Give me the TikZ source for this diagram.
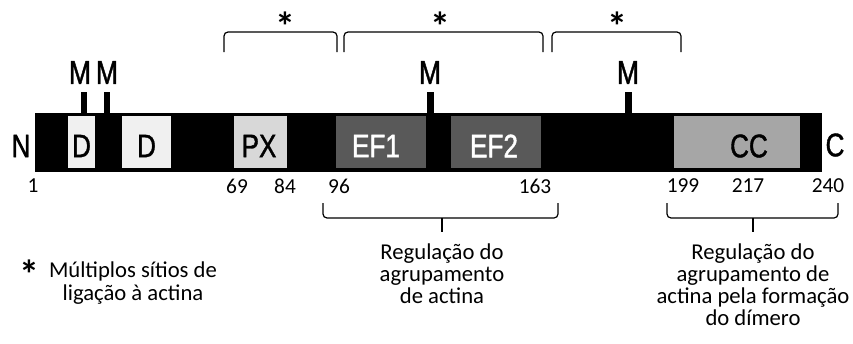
\documentclass[tikz,border=0pt]{standalone}
\usepackage{fontspec}
\setmainfont{Carlito}
\newfontfamily\arl[FakeStretch=0.8,FakeBold=1.2]{Liberation Sans}
\usetikzlibrary{positioning}
\definecolor{dcol}{HTML}{F0F0F0}
\definecolor{pxcol}{HTML}{D8D8D8}
\definecolor{efcol}{HTML}{595959}
\definecolor{cccol}{HTML}{A6A6A6}
\begin{document}
\begin{tikzpicture}[x=0.75pt,y=-0.75pt,
  lbl/.style={font=\arl\fontsize{24.5}{24.5}\selectfont, inner sep=0},
  mlbl/.style={font=\arl\fontsize{25}{25}\selectfont, inner sep=0},
  num/.style={font=\fontsize{16}{16}\selectfont, inner sep=0},
  txt/.style={font=\fontsize{17}{16.4}\selectfont, align=center, inner sep=0},
  ast/.style={font=\bfseries\fontsize{30}{30}\selectfont, inner sep=0},
  brk/.style={line width=0.9pt, rounded corners=3pt},
  tick/.style={fill=black},
]
\useasboundingbox (0,0) rectangle (853,343);
% main bar
\fill[black] (35,113) rectangle (822,172);
% domains
\fill[dcol] (68,116) rectangle (95,168);
\fill[dcol] (122,116) rectangle (171,168);
\fill[pxcol] (234,116) rectangle (287,168);
\fill[efcol] (336,116) rectangle (426,168);
\fill[efcol] (451,116) rectangle (541,168);
\fill[cccol] (674,116) rectangle (800,168);
\node[lbl] (d1) at (81.5,146) {D};
\node[lbl] (d2) at (146.5,146) {D};
\node[lbl] (px) at (259,146) {PX};
\node[lbl,text=white] (ef1) at (376,146) {EF1};
\node[lbl,text=white] (ef2) at (494,146) {EF2};
\node[lbl] (cc) at (749,146) {CC};
\node[lbl] (nterm) at (21,146) {N};
\node[lbl] (cterm) at (835,145) {C};
% M sites
\fill[tick] (80.5,92) rectangle (87,113);
\fill[tick] (103.5,92) rectangle (110,113);
\fill[tick] (427,92) rectangle (433.5,113);
\fill[tick] (625,92) rectangle (631.5,113);
\node[mlbl] (m1) at (80,72.5) {M};
\node[mlbl] (m2) at (107,72.5) {M};
\node[mlbl] (m3) at (430,72.5) {M};
\node[mlbl] (m4) at (628,72.5) {M};
% residue numbers
\node[num] (n1) at (33,186) {1};
\node[num] (n69) at (237,186) {69};
\node[num] (n84) at (285,186) {84};
\node[num] (n96) at (339,186) {96};
\node[num] (n163) at (535,186) {163};
\node[num] (n199) at (683,186) {199};
\node[num] (n217) at (748,186) {217};
\node[num] (n240) at (828,186) {240};
% top brackets
\draw[brk] (224,52) -- (224,32) -- (337,32) -- (337,52);
\draw[brk] (344,52) -- (344,32) -- (543,32) -- (543,52);
\draw[brk] (552,52) -- (552,32) -- (681,32) -- (681,52);
\node[ast,anchor=north] (a1) at (285,12) {*};
\node[ast,anchor=north] (a2) at (440,12) {*};
\node[ast,anchor=north] (a3) at (617,12) {*};
% bottom braces
\draw[brk] (323,203) -- (323,218) -- (558,218) -- (558,203);
\draw[line width=0.9pt] (442,218) -- (442,232);
\draw[brk] (667,203) -- (667,218) -- (838,218) -- (838,203);
\draw[line width=0.9pt] (753,218) -- (753,232);
\node[txt] (t1) at (442,274) {Regulação do\\agrupamento\\de actina};
\node[txt] (t2) at (753,285) {Regulação do\\agrupamento de\\actina pela formação\\do dímero};
% legend
\node[ast,anchor=north] (la) at (29,260) {*};
\node[txt,font=\fontsize{17}{17.2}\selectfont] (leg) at (133,283) {Múltiplos sítios de\\ligação à actina};
\end{tikzpicture}
\end{document}
